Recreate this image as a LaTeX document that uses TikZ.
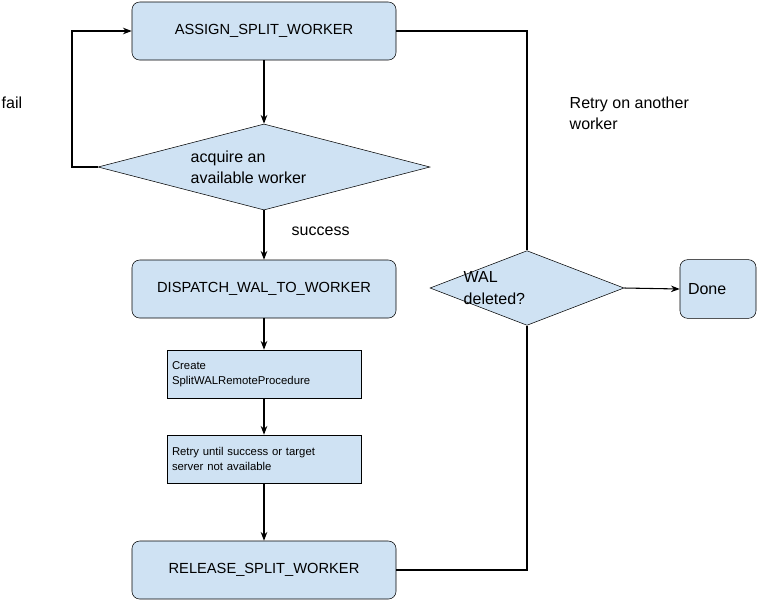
\documentclass[tikz,border=0pt]{standalone}
\usepackage{fontspec}
\setmainfont{Liberation Sans}
\usetikzlibrary{arrows.meta, positioning, shapes.geometric}
\definecolor{stepblue}{RGB}{207, 226, 243}

\begin{document}
\begin{tikzpicture}[
  x=0.75pt, y=-0.75pt,
  >=Stealth,
  stepbox/.style={draw, rounded corners=2mm, fill=stepblue, minimum width=198pt, minimum height=43.5pt, font=\fontsize{11}{13}\selectfont},
  substep/.style={draw, fill=stepblue, minimum width=145.5pt, minimum height=36pt, text width=138pt, align=left, font=\fontsize{8.5}{11}\selectfont},
  decision/.style={draw, diamond, fill=stepblue, aspect=3.9, inner sep=0pt, font=\fontsize{12}{14}\selectfont},
  arrow/.style={->, line width=0.8pt},
  line/.style={line width=0.8pt}
]
  \useasboundingbox (0,0) rectangle (757,601);

  % main column
  \node[stepbox] (assign) at (264,31) {ASSIGN\_SPLIT\_WORKER};
  \node[decision, minimum width=249pt, minimum height=64.5pt] (acquire) at (264,167) {};
  \node[align=left, font=\fontsize{12}{16}\selectfont, anchor=west] (acquiretext) at (186,167) {acquire an\\available worker};
  \node[stepbox] (dispatch) at (264,289) {DISPATCH\_WAL\_TO\_WORKER};
  \node[substep] (create) at (264,374) {Create\\SplitWALRemoteProcedure};
  \node[substep] (retry) at (264,459) {Retry until success or target\\server not available};
  \node[stepbox] (release) at (264,570) {RELEASE\_SPLIT\_WORKER};

  % right column
  \node[decision, minimum width=145.5pt, minimum height=56pt] (deleted) at (527,288) {};
  \node[align=left, font=\fontsize{12}{16}\selectfont, anchor=west] (deletedtext) at (459,288) {WAL\\deleted?};
  \node[stepbox, minimum width=57pt, minimum height=44pt, font=\fontsize{12}{14}\selectfont, text width=45pt, align=left] (done) at (718,289) {Done};

  % labels
  \node[font=\fontsize{12}{14}\selectfont, anchor=west] (faillabel) at (-3,103) {fail};
  \node[font=\fontsize{12}{14}\selectfont, anchor=west] (successlabel) at (287,231) {success};
  \node[font=\fontsize{12}{16}\selectfont, anchor=west, align=left] (retrylabel) at (565,113) {Retry on another\\worker};

  \coordinate (loopbottom) at (72,167);
  \coordinate (looptop) at (72,31);
  \coordinate (topright) at (527,31);
  \coordinate (bottomright) at (527,570);

  % connectors
  \draw[arrow] (assign) -- (acquire);
  \draw[arrow] (acquire) -- (dispatch);
  \draw[arrow] (dispatch) -- (create);
  \draw[arrow] (create) -- (retry);
  \draw[arrow] (retry) -- (release);
  \draw[arrow] (acquire.west) -- (loopbottom) -- (looptop) -- (assign.west);
  \draw[line] (assign.east) -- (topright) -- (deleted.north);
  \draw[line] (release.east) -- (bottomright) -- (deleted.south);
  \draw[arrow] (deleted.east) -- (done.west);
\end{tikzpicture}
\end{document}
